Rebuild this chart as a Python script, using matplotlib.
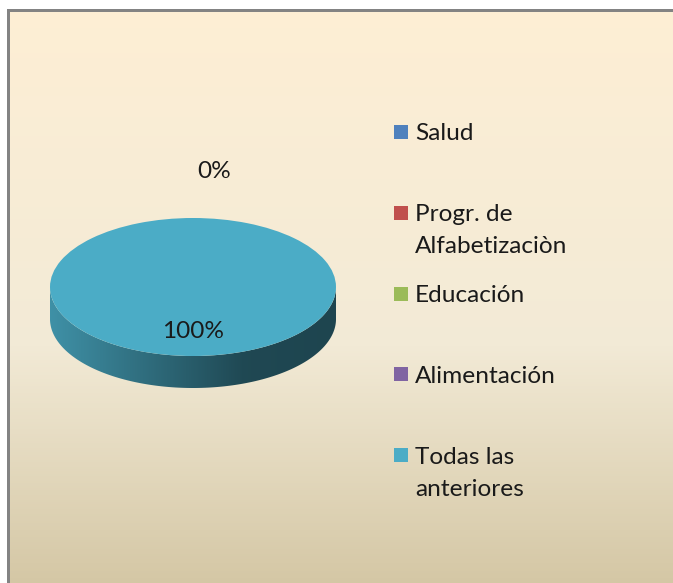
import numpy as np
import matplotlib
matplotlib.use("Agg")
import matplotlib.pyplot as plt
from matplotlib.patches import Polygon, Rectangle

# data
categories = ["Salud", "Progr. de\nAlfabetizaciòn", "Educación", "Alimentación", "Todas las\nanteriores"]
values = [0, 0, 0, 0, 100]
colors = ["#4F81BD", "#C0504D", "#9BBB59", "#8064A2", "#4BACC6"]

W, H = 673, 583
plt.rcParams["font.family"] = ["Lato", "DejaVu Sans"]
text_color = "#1a1a1a"
fs = 17.6

fig = plt.figure(figsize=(W / 100, H / 100), dpi=100, facecolor="white")

# background panel (pixel coords)
bg = fig.add_axes([0, 0, 1, 1])
stops_y = [0, 0.55, 1]
stops_c = np.array([[253, 238, 212], [242, 234, 214], [208, 194, 158]]) / 255
yy = np.linspace(0, 1, 256)
grad = np.stack([np.interp(yy, stops_y, stops_c[:, k]) for k in range(3)], axis=-1)
# vertical gradient drawn as thin horizontal bands
for k in range(len(yy) - 1):
    y0 = 11 + (H + 30 - 11) * yy[k]
    y1 = 11 + (H + 30 - 11) * yy[k + 1]
    bg.add_patch(Rectangle((9, y0), W + 30, y1 - y0 + 0.5, facecolor=grad[k], lw=0, zorder=1))
# frame: only top and left edges are inside the picture
bg.add_patch(Rectangle((7, 9), W + 20, 3, facecolor="#838383", lw=0, zorder=2))
bg.add_patch(Rectangle((7, 9), 3, H + 20, facecolor="#838383", lw=0, zorder=2))
bg.set_xlim(0, W)
bg.set_ylim(H, 0)
bg.axis("off")

# pie axes: map data units to the ellipse in pixels
cx, cy, rx, ry, depth = 193, 287, 143, 69, 32
ax = fig.add_axes([0, 0, 1, 1])
ax.patch.set_visible(False)
wedges, _ = ax.pie(values, colors=colors, startangle=90, counterclock=False,
                   wedgeprops=dict(linewidth=0, zorder=2))
d = depth / ry

# side walls of the 3d pie, shaded left->right
for w, v, c in zip(wedges, values, colors):
    if v <= 0:
        continue
    t = np.radians(np.linspace(w.theta1, w.theta2, 600))
    t = t[np.sin(t) <= 0]
    t = np.sort(t)
    top = np.column_stack([np.cos(t), np.sin(t)])
    bot = np.column_stack([np.cos(t), np.sin(t) - d])[::-1]
    side = Polygon(np.vstack([top, bot]), closed=True, facecolor="none", lw=0)
    ax.add_patch(side)
    base = np.array(matplotlib.colors.to_rgb(c))
    xs = np.linspace(0, 1, 256)
    fac = np.interp(xs, [0, 0.68, 1], [0.84, 0.42, 0.40])
    shade = (fac[:, None] * base[None, :])[None, :, :]
    im = ax.imshow(shade, extent=(-1, 1, -1 - d, 0), aspect="auto", zorder=1.5)
    im.set_clip_path(side)

# percentage labels
total = sum(values)
zero_done = False
for w, v in zip(wedges, values):
    pct = f"{v / total * 100:.0f}%"
    mid = np.radians((w.theta1 + w.theta2) / 2)
    if v > 0:
        ax.text(0.64 * np.cos(mid), 0.64 * np.sin(mid), pct, ha="center", va="center",
                fontsize=fs, color=text_color, zorder=3)
    elif not zero_done:
        ax.text(1.67 * np.cos(mid) + 0.15, 1.67 * np.sin(mid), pct, ha="center", va="center",
                fontsize=fs, color=text_color, zorder=3)
        zero_done = True

ax.set_aspect("auto")
ax.set_xlim(-cx / rx, (W - cx) / rx)
ax.set_ylim((cy - H) / ry, cy / ry)
ax.axis("off")

# legend
row0, row_step, line_step = 132, 80.8, 32
for i, (lab, c) in enumerate(zip(categories, colors)):
    y = row0 + i * row_step
    bg.add_patch(Rectangle((394, y - 7), 14, 14, facecolor=c, lw=0, zorder=3))
    for j, line in enumerate(lab.split("\n")):
        bg.text(415, y + j * line_step + 8.5, line, fontsize=fs, va="baseline", ha="left",
                color=text_color, zorder=3)

fig.savefig("out.png", dpi=100)
